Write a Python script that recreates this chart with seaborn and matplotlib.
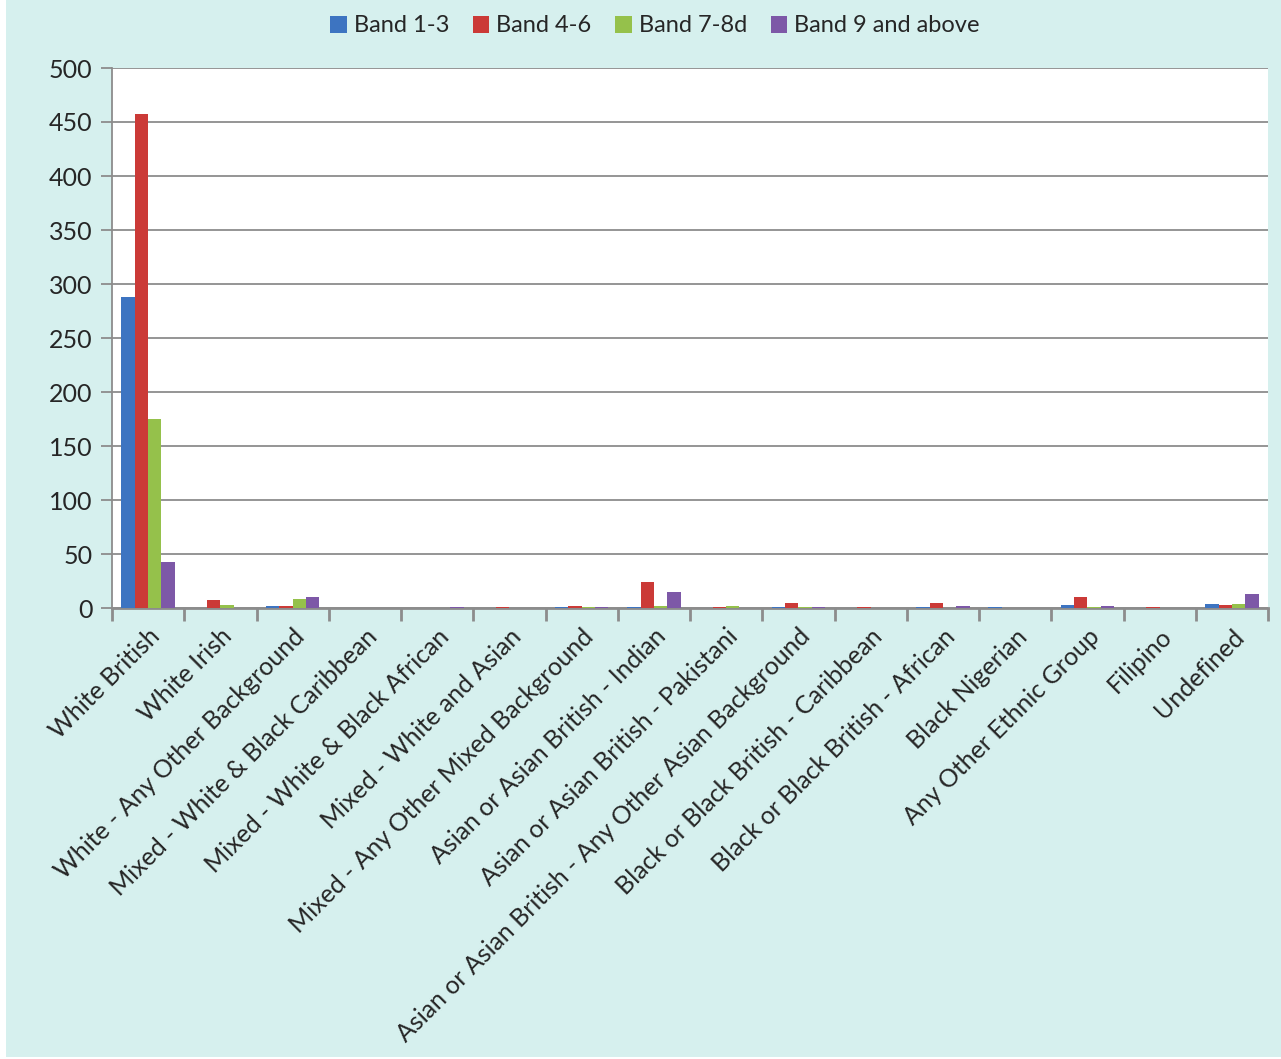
import matplotlib
matplotlib.use("Agg")
import matplotlib.pyplot as plt
import seaborn as sns
import pandas as pd
import numpy as np
from matplotlib.patches import Rectangle

categories = ["White British", "White Irish", "White - Any Other Background",
              "Mixed - White & Black Caribbean", "Mixed - White & Black African",
              "Mixed - White and Asian", "Mixed - Any Other Mixed Background",
              "Asian or Asian British - Indian", "Asian or Asian British - Pakistani",
              "Asian or Asian British - Any Other Asian Background",
              "Black or Black British - Caribbean", "Black or Black British - African",
              "Black Nigerian", "Any Other Ethnic Group", "Filipino", "Undefined"]
series = ["Band 1-3", "Band 4-6", "Band 7-8d", "Band 9 and above"]
band_1_3 = [288, 0, 2, 0, 0, 0, 1, 1, 0, 1, 0, 1, 1, 3, 0, 4]
band_4_6 = [457, 7, 2, 0, 0, 1, 2, 24, 1, 5, 1, 5, 0, 10, 1, 3]
band_7_8d = [175, 3, 8, 0, 0, 0, 1, 2, 2, 1, 0, 0, 0, 1, 0, 4]
band_9_up = [43, 0, 10, 0, 1, 0, 1, 15, 0, 1, 0, 2, 0, 2, 0, 13]
colors = ["#3d74c1", "#cb3a37", "#95c14b", "#7d58a7"]

df = pd.DataFrame({
    "category": categories * 4,
    "band": [s for s in series for _ in categories],
    "value": band_1_3 + band_4_6 + band_7_8d + band_9_up,
})

sns.set_theme(style="white")
plt.rcParams["font.family"] = ["Lato", "DejaVu Sans"]

bg = "#d6f0ee"
fig = plt.figure(figsize=(12.81, 10.59), dpi=100, facecolor=bg)
fig.patches.append(Rectangle((0, 0), 6 / 1281, 1, transform=fig.transFigure,
                             facecolor="white", edgecolor="none", zorder=-1))
fig.patches.append(Rectangle((0, 0), 1, 2 / 1059, transform=fig.transFigure,
                             facecolor="white", edgecolor="none", zorder=-1))
ax = fig.add_axes([112 / 1281, 1 - 608 / 1059, (1268 - 112) / 1281, (608 - 68) / 1059])
ax.set_facecolor("white")

sns.barplot(data=df, x="category", y="value", hue="band", hue_order=series,
            order=categories, palette=colors, width=0.74, gap=0,
            saturation=1, ax=ax, legend=True, zorder=3, linewidth=0)

ax.set_ylim(0, 500)
ax.set_xlim(-0.5, len(categories) - 0.5)
ax.set_yticks(np.arange(0, 501, 50))
ax.yaxis.grid(True, color="#8c8c8c", linewidth=1.3)
ax.set_axisbelow(True)
ax.tick_params(axis="y", labelsize=18, length=8, color="#8c8c8c", width=1.3,
               direction="out", left=True, pad=6)
ax.set_xticks(range(len(categories)))
ax.set_xticklabels(categories, rotation=45, ha="right", rotation_mode="anchor",
                   fontsize=18)
ax.tick_params(axis="x", length=0, pad=12)
ax.set_xticks(np.arange(-0.5, len(categories), 1), minor=True)
ax.tick_params(axis="x", which="minor", length=9, color="#8c8c8c", width=2,
               direction="out", bottom=True)
ax.set_xlabel("")
ax.set_ylabel("")
for side in ["top", "right"]:
    ax.spines[side].set_visible(False)
ax.spines["left"].set_color("#8c8c8c")
ax.spines["left"].set_linewidth(1.3)
ax.spines["bottom"].set_color("#8c8c8c")
ax.spines["bottom"].set_linewidth(2)
ax.spines["bottom"].set_zorder(2)

handles, labels = ax.get_legend_handles_labels()
ax.legend_.remove()
fig.legend(handles, labels, loc="center", bbox_to_anchor=(655 / 1281, 1 - 26 / 1059),
           ncol=4, frameon=False, fontsize=17, handlelength=0.7, handleheight=0.7,
           handletextpad=0.3, columnspacing=1.0)

fig.savefig("out.png", dpi=100, facecolor=bg)
